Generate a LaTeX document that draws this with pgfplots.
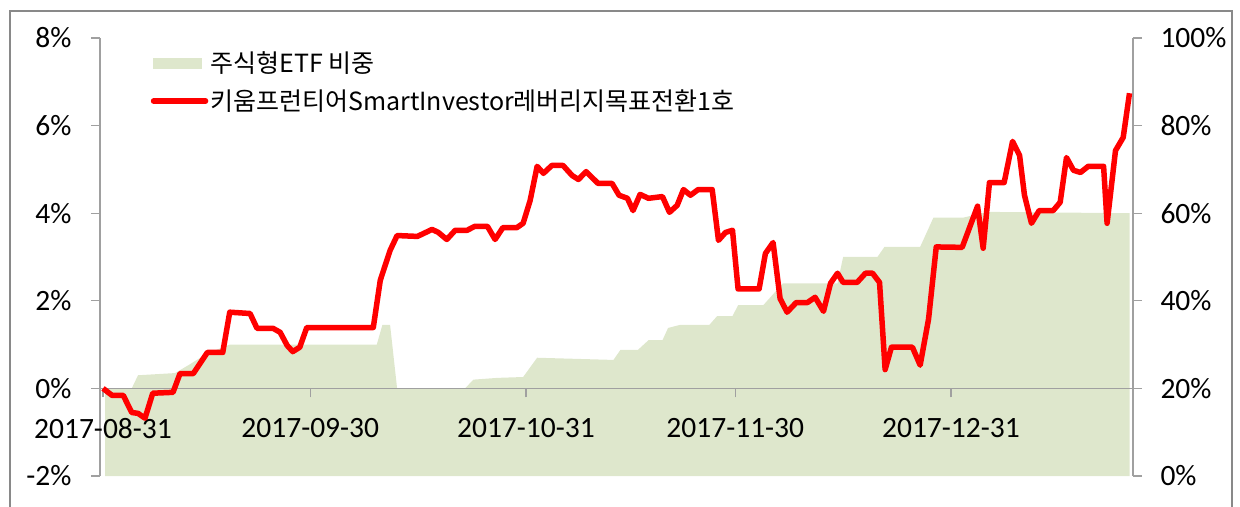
\documentclass[border=0pt]{standalone}
\usepackage{fontspec}
\setmainfont{Carlito}
\newfontfamily\kr{Noto Sans CJK KR}
\usepackage{pgfplots}
\pgfplotsset{compat=1.18}
\definecolor{areagreen}{RGB}{222,231,204}
\definecolor{axgray}{RGB}{160,160,160}
\definecolor{framegray}{RGB}{137,137,137}
\pgfplotsset{lineleg/.style={legend image code/.code={\draw[##1, line cap=round] (0bp,0bp) -- (52bp,0bp);}},
  arealeg/.style={legend image code/.code={\fill[areagreen] (0bp,-5bp) rectangle (48bp,5bp);}}}
\begin{document}
\begin{tikzpicture}
\useasboundingbox (-100bp,-31bp) rectangle (1140bp,476bp);
\draw[framegray, line width=2.5bp] (-90bp,-40bp) -- (-90bp,465bp) -- (1132bp,465bp) -- (1132bp,-40bp);
\pgfplotsset{common/.style={at={(0,0)}, anchor=south west, scale only axis,
  width=1033bp, height=438bp, xmin=-0.43, xmax=147.1,
  font=\fontsize{29.5bp}{34bp}\selectfont, tick align=outside,
  major tick length=9bp, every tick/.style={axgray, line width=1.3bp},
  axis line style={axgray, line width=1.3bp}}}
\begin{axis}[common, ymin=0, ymax=100, axis y line*=right, axis x line=none,
  xtick=\empty, ytick={0,20,40,60,80,100},
  yticklabels={0\%,20\%,40\%,60\%,80\%,100\%},
  yticklabel style={xshift=15bp}]
\addplot[fill=areagreen, draw=none] coordinates {
(0.3,20) (4.1,20) (5.0,23) (10.3,23.5) (12.4,25.5) (13.9,27) (14.9,28) (18.1,30)
(39.1,30) (39.9,34.5) (41.0,34.5) (42.0,20) (51.7,20) (52.9,22) (56.3,22.4)
(60.0,22.6) (62.0,27) (72.9,26.5) (73.9,28.8) (76.4,28.8) (77.9,31) (79.9,31)
(80.7,33.8) (82.4,34.5) (86.6,34.5) (87.7,36.5) (89.9,36.5) (90.7,39) (94.3,39)
(97.1,44) (104.9,44) (105.7,50) (110.6,50) (111.6,52.3) (116.7,52.3) (118.6,59)
(122.9,59) (126.3,60.3) (146.6,60)} \closedcycle;
\end{axis}
\begin{axis}[common, ymin=-2, ymax=8, axis y line*=left, axis x line*=middle,
  ytick={-2,0,2,4,6,8}, yticklabels={-2\%,0\%,2\%,4\%,6\%,8\%},
  yticklabel style={xshift=-16bp},
  xtick={0,29.6,60.4,90.3,121.1},
  xticklabels={2017-08-31,2017-09-30,2017-10-31,2017-11-30,2017-12-31},
  xticklabel style={yshift=-17bp},
  legend style={at={(0.049,0.974)}, anchor=north west, draw=none, fill=none,
    font=\kr\fontsize{25bp}{30bp}\selectfont, row sep=12bp, inner sep=0pt},
  legend cell align=left]
\addlegendimage{arealeg}
\addlegendentry{주식형ETF 비중}
\addplot[red, line width=5.5bp, line join=round, lineleg] coordinates {
(0,0) (1.3,-0.16) (2.9,-0.16) (4.1,-0.55) (5.0,-0.57) (6.0,-0.68) (7.1,-0.11)
(10.0,-0.09) (11.0,0.34) (12.9,0.34) (14.9,0.82) (17.1,0.82) (18.1,1.74) (21.0,1.71)
(22.0,1.37) (24.3,1.37) (25.3,1.28) (26.3,0.98) (27.1,0.84) (28.1,0.94) (29.1,1.39)
(38.6,1.39) (39.6,2.47) (41.0,3.15) (42.0,3.49) (44.9,3.47) (47.0,3.63) (47.9,3.56)
(49.1,3.40) (50.3,3.61) (52.0,3.61) (53.1,3.70) (54.9,3.70) (56.0,3.40) (57.1,3.67)
(59.1,3.67) (60.0,3.77) (61.0,4.29) (62.0,5.07) (62.9,4.91) (64.1,5.09) (65.7,5.09)
(67.0,4.86) (67.9,4.77) (69.0,4.95) (70.7,4.68) (72.7,4.68) (73.7,4.41) (74.9,4.34)
(75.7,4.06) (76.7,4.43) (77.9,4.34) (79.9,4.38) (80.9,4.02) (82.0,4.18) (82.9,4.54)
(83.9,4.41) (85.0,4.54) (87.0,4.54) (87.9,3.38) (88.9,3.56) (89.9,3.61) (90.7,2.27)
(93.7,2.27) (94.6,3.08) (95.7,3.33) (96.7,2.05) (97.7,1.74) (99.0,1.96) (100.6,1.96)
(101.7,2.08) (102.9,1.76) (103.9,2.40) (104.9,2.63) (105.7,2.42) (107.7,2.42)
(108.9,2.63) (109.9,2.63) (110.9,2.42) (111.7,0.43) (112.6,0.94) (115.6,0.94)
(116.7,0.53) (117.9,1.58) (119.0,3.23) (122.7,3.22) (124.9,4.16) (125.7,3.20)
(126.6,4.70) (128.7,4.70) (129.9,5.64) (130.9,5.32) (131.6,4.41) (132.6,3.77)
(133.7,4.06) (135.7,4.06) (136.7,4.25) (137.6,5.27) (138.6,4.98) (139.6,4.93)
(140.7,5.07) (142.9,5.07) (143.4,3.77) (144.6,5.43) (145.7,5.73) (146.6,6.74)};
\addlegendentry{키움프런티어SmartInvestor레버리지목표전환1호}
\end{axis}
\end{tikzpicture}
\end{document}
